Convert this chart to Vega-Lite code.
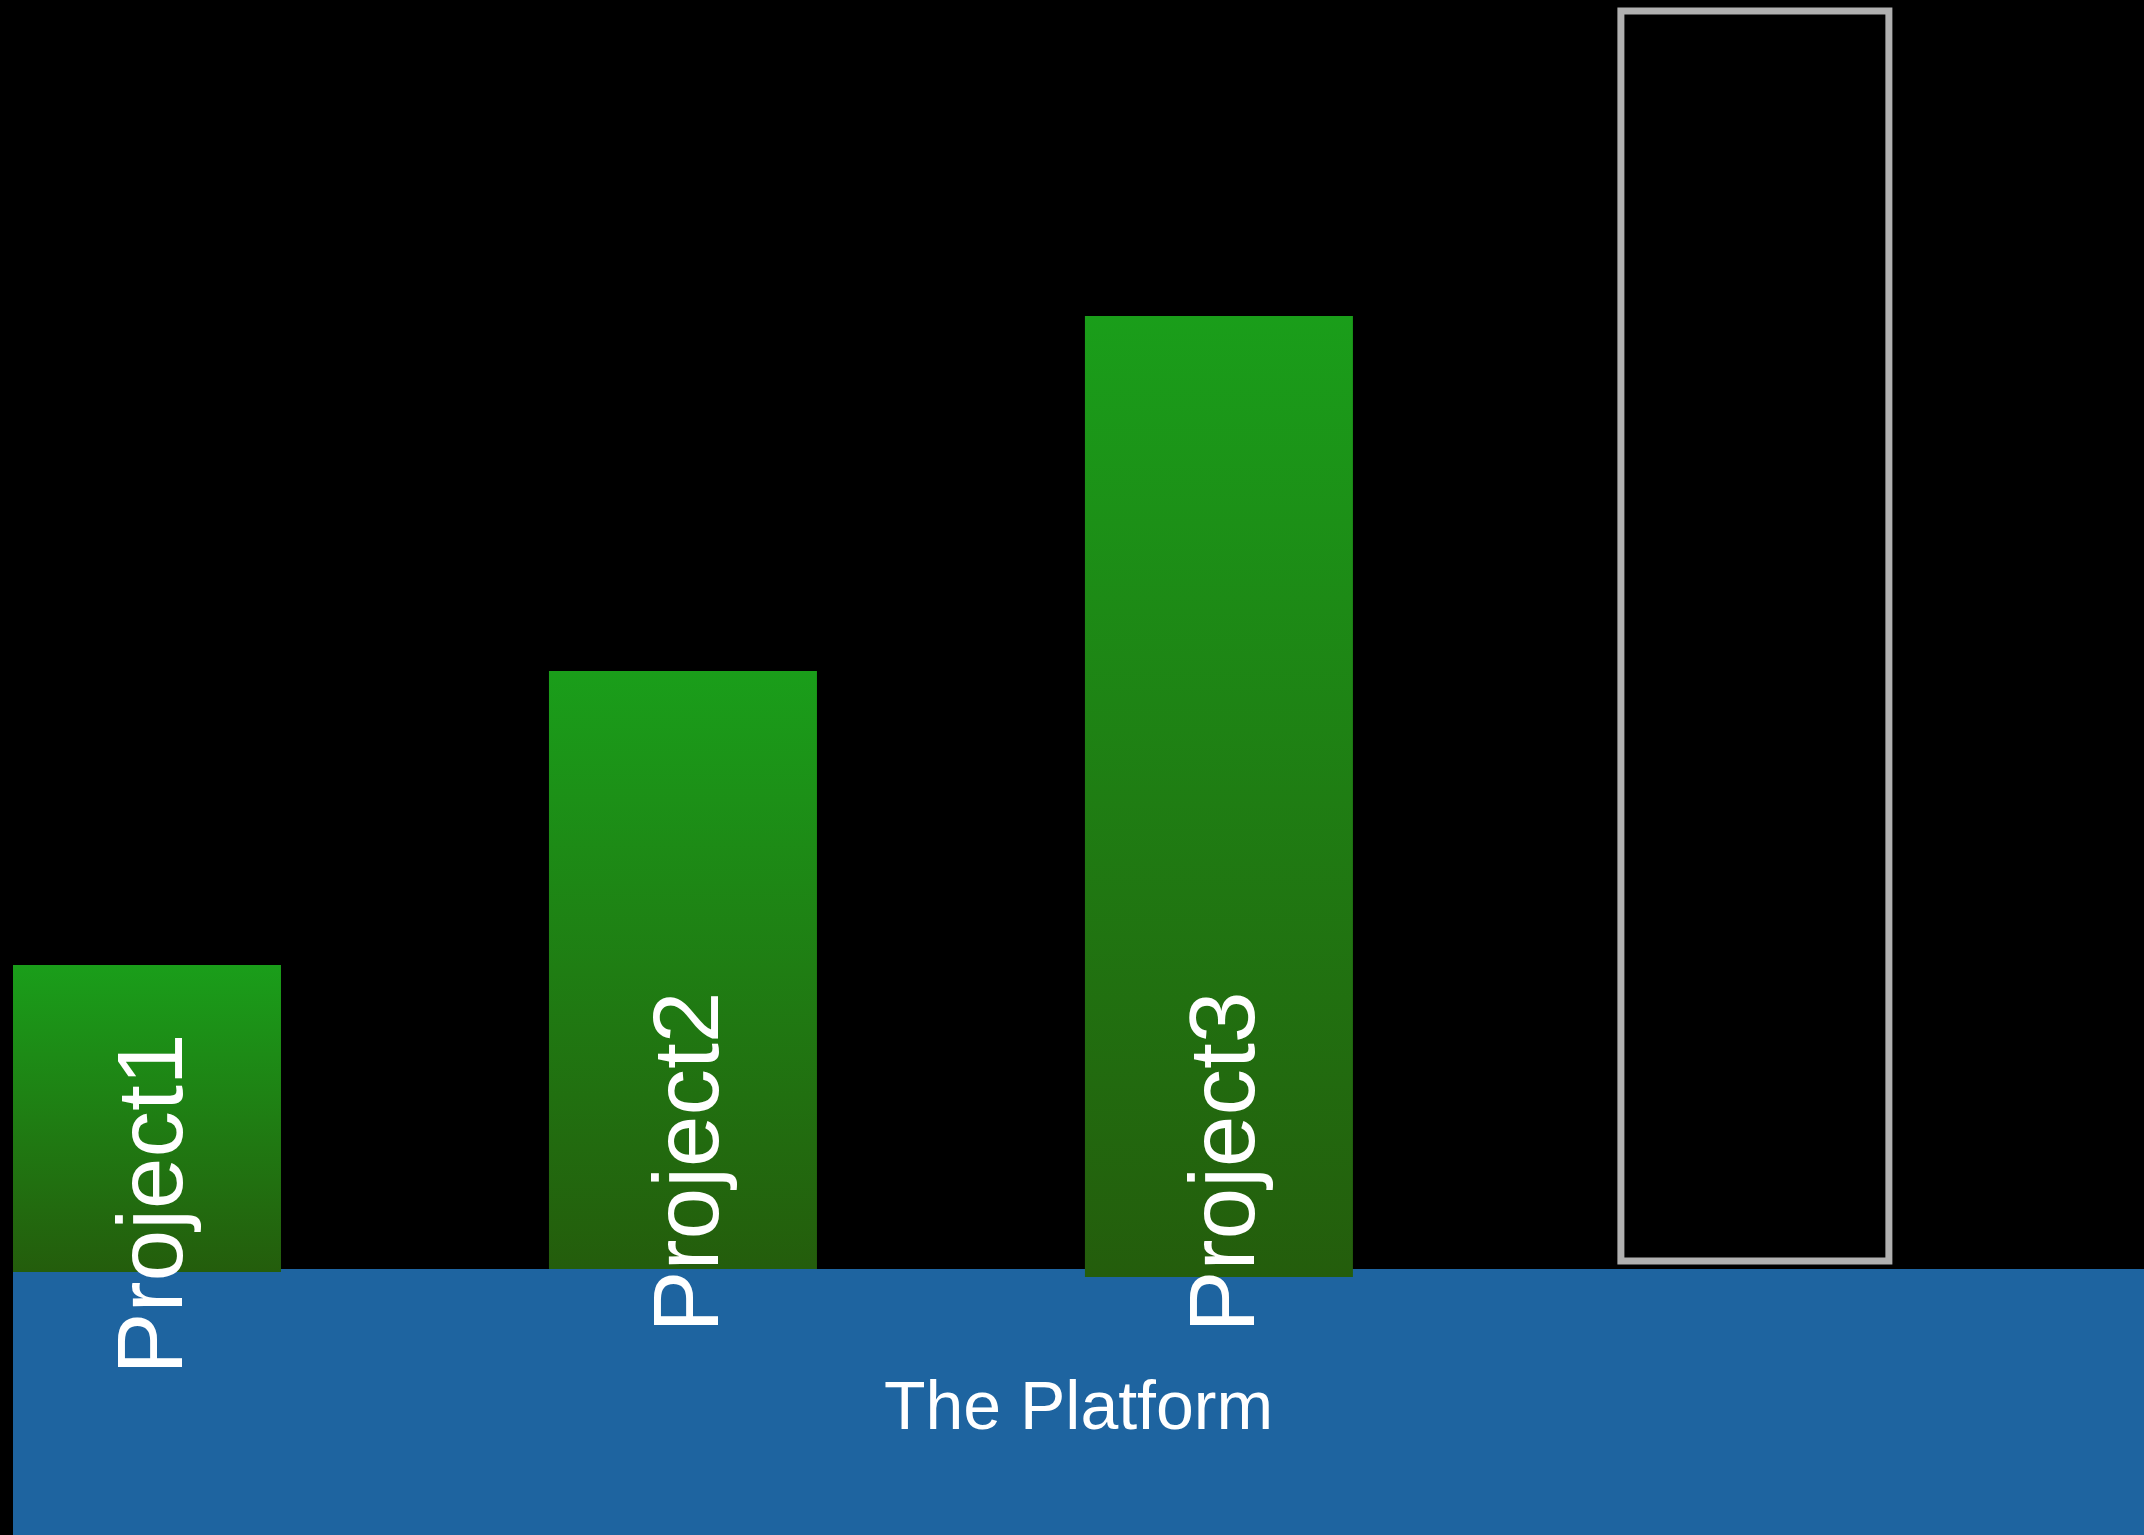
{
  "$schema": "https://vega.github.io/schema/vega-lite/v6.json",
  "width": 2144,
  "height": 1535,
  "autosize": {"type": "fit", "contains": "padding"},
  "padding": {"left": 13, "top": 0, "right": 0, "bottom": 0},
  "background": "#000000",
  "config": {"view": {"stroke": null}},
  "datasets": {
    "projects": [
      {"project": "Project1", "value": 30.4, "base": -0.3, "status": "done"},
      {"project": "Project2", "value": 59.8, "base": 0, "status": "done"},
      {"project": "Project3", "value": 95.3, "base": -0.8, "status": "done"},
      {"project": "Next", "value": 125.8, "base": 0.8, "status": "planned"}
    ],
    "platform": [
      {"name": "The Platform", "top": 0, "bottom": -26.6}
    ]
  },
  "layer": [
    {
      "data": {"name": "platform"},
      "mark": {"type": "rect", "color": "#1e64a0"},
      "encoding": {
        "y": {"field": "top", "type": "quantitative", "scale": {"domain": [-26.6, 126.9], "nice": false, "zero": false}, "axis": null},
        "y2": {"field": "bottom"}
      }
    },
    {
      "data": {"name": "projects"},
      "transform": [{"filter": "datum.status === 'done'"}],
      "mark": {
        "type": "bar",
        "color": {
          "gradient": "linear",
          "x1": 0, "y1": 0, "x2": 0, "y2": 1,
          "stops": [
            {"offset": 0, "color": "#1a9e1a"},
            {"offset": 1, "color": "#245d0c"}
          ]
        }
      },
      "encoding": {
        "x": {
          "field": "project", "type": "nominal", "sort": null, "axis": null,
          "scale": {"domain": ["Project1", "Project2", "Project3", "Next"], "paddingInner": 0.5, "paddingOuter": 0.238, "align": 0}
        },
        "y": {"field": "value", "type": "quantitative"},
        "y2": {"field": "base"}
      }
    },
    {
      "data": {"name": "projects"},
      "transform": [{"filter": "datum.status === 'planned'"}],
      "mark": {"type": "bar", "fill": null, "fillOpacity": 0, "stroke": "#b0b0b0", "strokeWidth": 7},
      "encoding": {
        "x": {"field": "project", "type": "nominal", "sort": null},
        "y": {"field": "value", "type": "quantitative"},
        "y2": {"field": "base"}
      }
    },
    {
      "data": {"name": "projects"},
      "transform": [{"filter": "datum.project === 'Project1'"}],
      "mark": {"type": "text", "angle": 270, "align": "center", "baseline": "alphabetic", "dx": 65, "dy": 35, "font": "Liberation Sans", "fontSize": 93, "color": "#ffffff"},
      "encoding": {
        "x": {"field": "project", "type": "nominal", "sort": null, "bandPosition": 0.5},
        "y": {"datum": 0, "type": "quantitative"},
        "text": {"field": "project"}
      }
    },
    {
      "data": {"name": "projects"},
      "transform": [{"filter": "datum.project === 'Project2' || datum.project === 'Project3'"}],
      "mark": {"type": "text", "angle": 270, "align": "center", "baseline": "alphabetic", "dx": 107, "dy": 35, "font": "Liberation Sans", "fontSize": 93, "color": "#ffffff"},
      "encoding": {
        "x": {"field": "project", "type": "nominal", "sort": null, "bandPosition": 0.5},
        "y": {"datum": 0, "type": "quantitative"},
        "text": {"field": "project"}
      }
    },
    {
      "data": {"name": "platform"},
      "mark": {"type": "text", "align": "center", "baseline": "alphabetic", "dy": 160, "font": "Liberation Sans", "fontSize": 68, "color": "#ffffff"},
      "encoding": {
        "y": {"field": "top", "type": "quantitative"},
        "text": {"field": "name"}
      }
    }
  ]
}
